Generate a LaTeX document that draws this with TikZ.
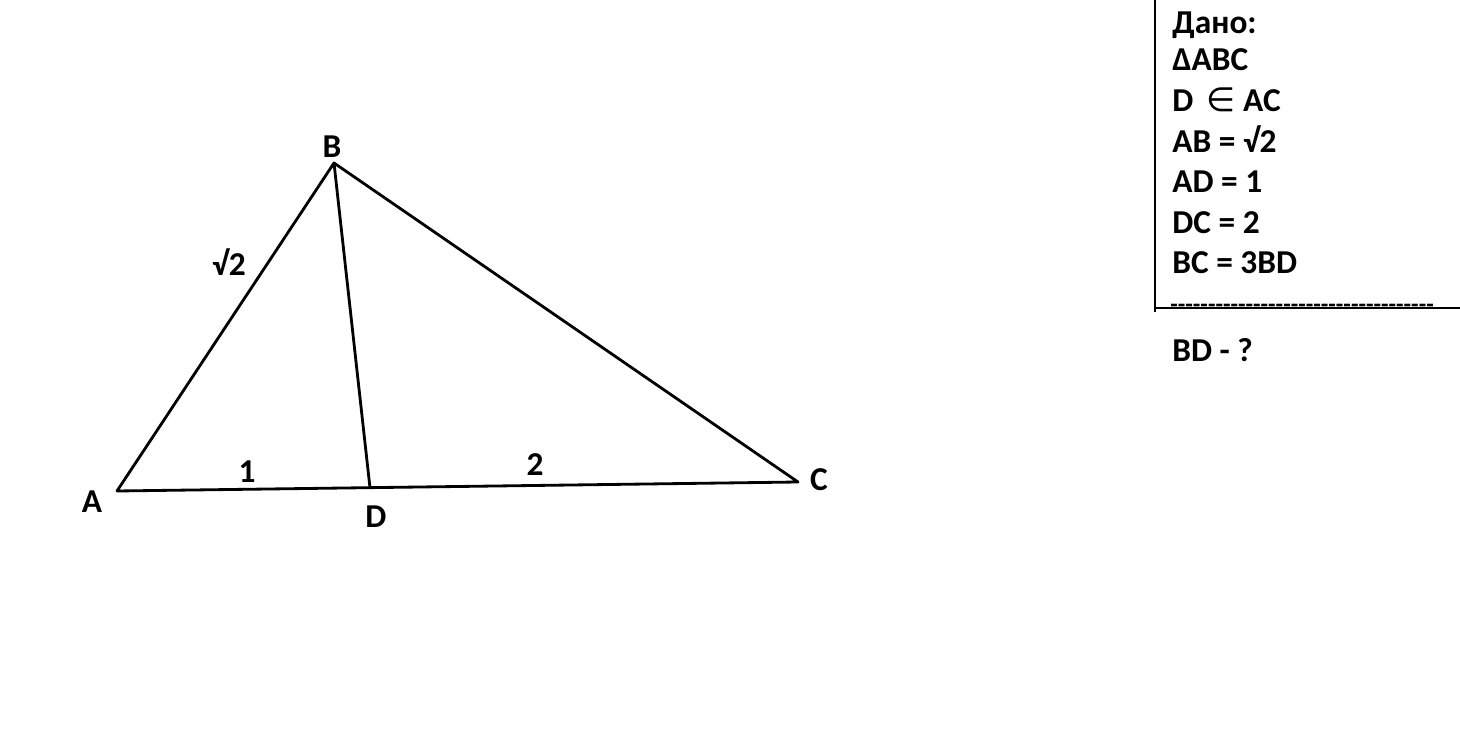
\documentclass[tikz,border=0pt]{standalone}
\usepackage{fontspec}
\setmainfont{Carlito}
\newfontfamily\symfont{DejaVu Sans}
\usetikzlibrary{positioning}

\tikzset{
	lbl/.style={font=\fontsize{19}{23}\selectfont\bfseries, inner sep=0pt},
	given/.style={lbl, anchor=base west},
	side/.style={line width=1.6pt, line join=round}
}

\begin{document}
\begin{tikzpicture}[x=0.02cm, y=-0.02cm]
	\useasboundingbox (0,0) rectangle (1460,739);
	
	% triangle
	\coordinate (A) at (117,491);
	\coordinate (B) at (334,163);
	\coordinate (C) at (798,482);
	\coordinate (D) at (370,488);
	
	\draw[side] (A) -- (B) -- (C) -- cycle;
	\draw[side] (B) -- (D);
	
	\node[lbl] (la) at (92,502) {A};
	\node[lbl] (lb) at (332,147) {B};
	\node[lbl] (lc) at (819,480) {C};
	\node[lbl] (ld) at (376,517) {D};
	\node[lbl] (lab) at (229,262) {√2};
	\node[lbl] (lad) at (247,472) {1};
	\node[lbl] (ldc) at (535,465) {2};
	
	% given
	\node[given] (g1) at (1172,34) {Дано:};
	\node[given] (g2) at (1172,71) {ΔABC};
	\node[given] (g3) at (1172,112) {D \,{\symfont\mdseries ∈} AC};
	\node[given] (g4) at (1172,153) {AB = √2};
	\node[given] (g5) at (1172,193) {AD = 1};
	\node[given] (g6) at (1172,234) {DC = 2};
	\node[given] (g7) at (1172,274) {BC = 3BD};
	\node[given, font=\fontsize{14}{16}\selectfont\bfseries] (g8) at (1170,312.5)
		{\foreach \i in {1,...,35}{-}};
	\node[given] (g9) at (1172,362) {BD - ?};
	
	\coordinate (top) at (1155,0);
	\coordinate (corner) at (1155,312);
	\coordinate (sep) at (1155,308);
	\coordinate (edge) at (1460,308);
	\draw[line width=1.6pt] (top) -- (corner);
	\draw[line width=1.6pt] (sep) -- (edge);
\end{tikzpicture}
\end{document}
